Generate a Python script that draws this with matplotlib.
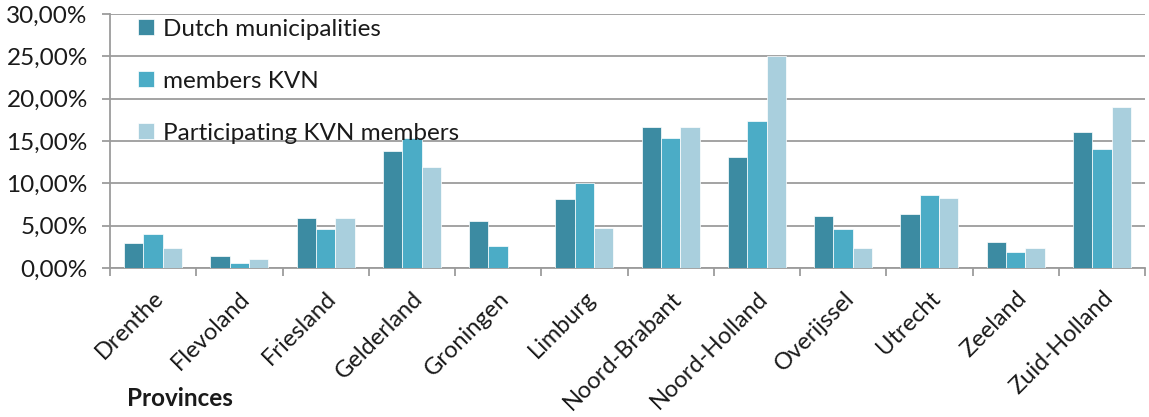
import matplotlib
matplotlib.use("Agg")
import matplotlib.pyplot as plt
import numpy as np
from matplotlib.ticker import FuncFormatter, MultipleLocator, FixedLocator

plt.rcParams['font.family'] = ['Lato', 'DejaVu Sans']

provinces = ["Drenthe", "Flevoland", "Friesland", "Gelderland", "Groningen", "Limburg",
             "Noord-Brabant", "Noord-Holland", "Overijssel", "Utrecht", "Zeeland", "Zuid-Holland"]
dutch_municipalities = [2.9, 1.4, 5.9, 13.8, 5.6, 8.1, 16.6, 13.1, 6.1, 6.4, 3.1, 16.1]
members_kvn = [4.0, 0.6, 4.6, 15.3, 2.6, 10.0, 15.4, 17.4, 4.6, 8.6, 1.9, 14.0]
participating_kvn = [2.4, 1.1, 5.9, 11.9, 0.0, 4.7, 16.6, 25.0, 2.4, 8.3, 2.4, 19.0]
series_names = ["Dutch municipalities", "members KVN", "Participating KVN members"]
colors = ["#3C8BA2", "#4BACC6", "#A9CFDD"]

W, H = 1149, 417
FS = 17.5
fig = plt.figure(figsize=(W / 100, H / 100), dpi=100)
ax = fig.add_axes([110 / W, (H - 268) / H, (1145 - 110) / W, (268 - 14) / H])

x = np.arange(len(provinces))
bw = 0.224
for i, (vals, name, c) in enumerate(zip([dutch_municipalities, members_kvn, participating_kvn],
                                         series_names, colors)):
    ax.bar(x + (i - 1) * bw, vals, width=bw, color=c, edgecolor="white", linewidth=0.5,
           label=name, zorder=3)

ax.set_xlim(-0.5, len(provinces) - 0.5)
ax.set_ylim(0, 30)
ax.yaxis.set_major_locator(MultipleLocator(5))
ax.yaxis.set_major_formatter(FuncFormatter(lambda v, p: f"{v:.2f}%".replace(".", ",")))
ax.grid(axis="y", color="#9C9C9C", linewidth=1.3, zorder=0)
ax.set_axisbelow(True)

for s in ["top", "right"]:
    ax.spines[s].set_visible(False)
for s in ["left", "bottom"]:
    ax.spines[s].set_color("#9C9C9C")
    ax.spines[s].set_linewidth(1.3)

ax.set_xticks(x)
ax.set_xticklabels(provinces, rotation=45, ha="right", rotation_mode="anchor",
                   fontsize=17, color="#1a1a1a")
ax.tick_params(axis="x", length=0, pad=14)
ax.xaxis.set_minor_locator(FixedLocator(np.arange(-0.5, len(provinces), 1.0)))
ax.tick_params(axis="x", which="minor", length=6, width=1.3, color="#9C9C9C")
ax.tick_params(axis="y", length=6, width=1.3, color="#9C9C9C", labelsize=FS,
               labelcolor="#1a1a1a", pad=10)

leg = ax.legend(loc="upper left", bbox_to_anchor=(0.018, 1.02), frameon=False,
                fontsize=FS, handlelength=0.65, handleheight=0.65, handletextpad=0.35,
                labelspacing=1.28, borderaxespad=0)
for t in leg.get_texts():
    t.set_color("#1a1a1a")

fig.text(127 / W, 1 - 398 / H, "Provinces", fontsize=FS, fontweight="bold",
         color="#1a1a1a", va="center", ha="left")

fig.savefig("out.png", dpi=100)
